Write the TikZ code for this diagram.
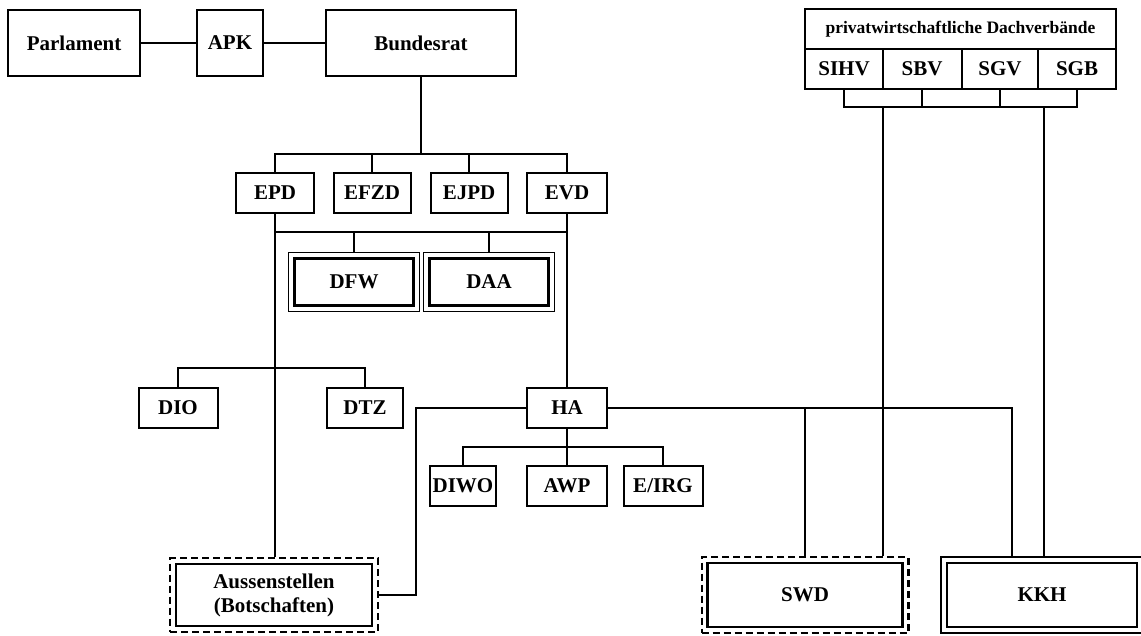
\documentclass[tikz,border=0pt]{standalone}
\usepackage{fontspec}
\setmainfont{Liberation Serif}
\usetikzlibrary{fit}

\begin{document}
\begin{tikzpicture}[x=1pt, y=-1pt,
    box/.style={draw, line width=2pt, inner sep=0pt, align=center,
        font=\fontsize{21}{24}\selectfont\bfseries},
    dept/.style={box, minimum height=40pt},
    thickbox/.style={box, line width=2.8pt},
    rim/.style={draw, line width=1.7pt, inner sep=4.5pt},
    dashrim/.style={draw, line width=2.2pt, inner sep=4.5pt, dash pattern=on 7pt off 4pt},
    conn/.style={line width=2pt}]

    \useasboundingbox (0,0) rectangle (1141,635);

    % Top row
    \node[box, minimum width=132pt, minimum height=66pt] (parl) at (74,43) {Parlament};
    \node[box, minimum width=66pt, minimum height=66pt] (apk) at (230,43) {APK};
    \node[box, minimum width=190pt, minimum height=66pt] (brat) at (421,43) {Bundesrat};
    \draw[conn] (parl) -- (apk);
    \draw[conn] (apk) -- (brat);

    % Departments
    \node[dept, minimum width=78pt] (epd) at (275,193) {EPD};
    \node[dept, minimum width=77pt] (efzd) at (372,193) {EFZD};
    \node[dept, minimum width=77pt] (ejpd) at (469,193) {EJPD};
    \node[dept, minimum width=80pt] (evd) at (567,193) {EVD};
    \coordinate (bb) at (421,154);
    \draw[conn] (brat.south) -- (bb);
    \draw[conn] (epd.north) |- (evd.north |- bb) -- (evd.north);
    \draw[conn] (efzd.north) -- (efzd.north |- bb);
    \draw[conn] (ejpd.north) -- (ejpd.north |- bb);

    % DFW and DAA
    \node[thickbox, minimum width=119pt, minimum height=47pt] (dfw) at (354,282) {DFW};
    \node[thickbox, minimum width=119pt, minimum height=47pt] (daa) at (489,282) {DAA};
    \node[rim, fit=(dfw)] (dfwrim) {};
    \node[rim, fit=(daa)] (daarim) {};

    % Offices below EPD and EVD
    \node[dept, minimum width=79pt] (dio) at (178,408) {DIO};
    \node[dept, minimum width=76pt] (dtz) at (365,408) {DTZ};
    \node[dept, minimum width=80pt] (ha) at (567,408) {HA};
    \node[dept, minimum width=66pt] (diwo) at (463,486) {DIWO};
    \node[dept, minimum width=80pt] (awp) at (567,486) {AWP};
    \node[dept, minimum width=79pt] (eirg) at (663,486) {E/IRG};

    % Bottom row
    \node[thickbox, minimum width=196pt, minimum height=62pt] (auss) at (274,595) {Aussenstellen\\(Botschaften)};
    \node[dashrim, fit=(auss)] (aussrim) {};
    \node[thickbox, minimum width=195pt, minimum height=64pt] (swd) at (805,595) {SWD};
    \node[dashrim, fit=(swd)] (swdrim) {};
    \node[thickbox, minimum width=190pt, minimum height=64pt] (kkh) at (1042,595) {KKH};
    \node[rim, fit=(kkh)] (kkhrim) {};

    % Dachverbaende
    \node[box, minimum width=311pt, minimum height=40pt,
        font=\fontsize{17.5}{20}\selectfont\bfseries] (dach) at (960.5,29) {privatwirtschaftliche Dachverbände};
    \node[dept, minimum width=78pt] (sihv) at (844,69) {SIHV};
    \node[dept, minimum width=79pt] (sbv) at (922,69) {SBV};
    \node[dept, minimum width=76pt] (sgv) at (1000,69) {SGV};
    \node[dept, minimum width=78pt] (sgb) at (1077,69) {SGB};
    \coordinate (vb) at (960,107);
    \draw[conn] (sihv.south) |- (sgb.south |- vb) -- (sgb.south);
    \draw[conn] (sbv.south) -- (sbv.south |- vb);
    \draw[conn] (sgv.south) -- (sgv.south |- vb);

    % Connectors
    \coordinate (db) at (421,232);
    \coordinate (ob) at (275,368);
    \coordinate (hb) at (567,447);
    \coordinate (hl) at (416,595);
    \coordinate (hr) at (1012,408);
    \coordinate (v1) at (883,107);
    \coordinate (v2) at (1044,107);
    \draw[conn] (epd.south) -- (epd.south |- aussrim.north);
    \draw[conn] (evd.south) -- (ha.north);
    \draw[conn] (epd.south |- db) -- (evd.south |- db);
    \draw[conn] (dfwrim.north) -- (dfwrim.north |- db);
    \draw[conn] (daarim.north) -- (daarim.north |- db);
    \draw[conn] (dio.north) |- (dtz.north |- ob) -- (dtz.north);
    \draw[conn] (ha.south) -- (awp.north);
    \draw[conn] (diwo.north) |- (eirg.north |- hb) -- (eirg.north);
    \draw[conn] (ha.west) -| (hl) -- (hl -| aussrim.east);
    \draw[conn] (ha.east) -- (hr) -- (hr |- kkhrim.north);
    \draw[conn] (swdrim.north |- hr) -- (swdrim.north);
    \draw[conn] (v1) -- (v1 |- swdrim.north);
    \draw[conn] (v2) -- (v2 |- kkhrim.north);
\end{tikzpicture}
\end{document}
